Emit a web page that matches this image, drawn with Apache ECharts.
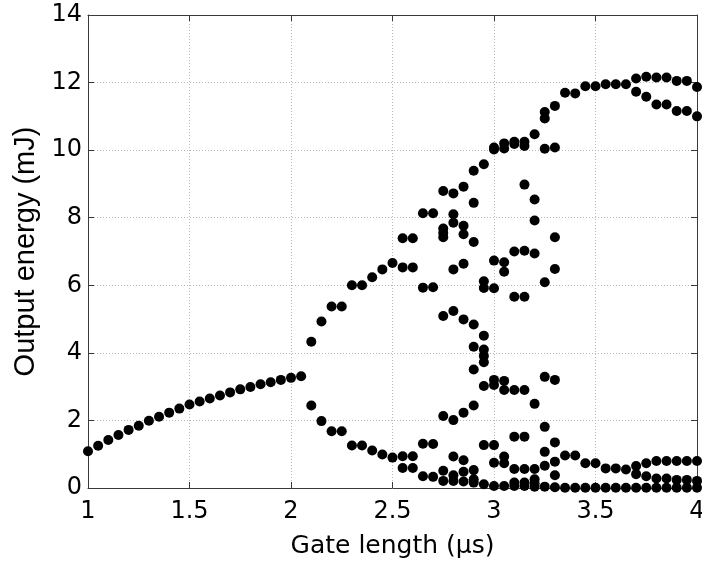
<!DOCTYPE html>
<html>
<head>
<meta charset="utf-8">
<script src="https://cdn.jsdelivr.net/npm/echarts@6/dist/echarts.min.js"></script>
<style>html,body{margin:0;padding:0;background:#fff}#c{width:702px;height:563px}</style>
</head>
<body>
<div id="c"></div>
<script>
// Single-branch region (gate length 1.00 .. 2.05 us, step 0.05)
var gateSingle = [1.00,1.05,1.10,1.15,1.20,1.25,1.30,1.35,1.40,1.45,1.50,1.55,1.60,1.65,1.70,1.75,1.80,1.85,1.90,1.95,2.00,2.05];
var energySingle = [1.09,1.25,1.42,1.57,1.72,1.84,1.99,2.11,2.23,2.35,2.47,2.56,2.65,2.74,2.83,2.92,2.99,3.07,3.13,3.20,3.26,3.31];

// Multi-branch region: gate length and all energy levels observed there
var gateMulti = [2.10,2.15,2.20,2.25,2.30,2.35,2.40,2.45,2.50,2.55,2.60,2.65,2.70,2.75,2.80,2.85,2.90,2.95,3.00,3.05,3.10,3.15,3.20,3.25,3.30,3.35,3.40,3.45,3.50,3.55,3.60,3.65,3.70,3.75,3.80,3.85,3.90,3.95,4.00];
var energyMulti = [
  [4.33,2.44],
  [4.93,1.98],
  [5.37,1.68],
  [5.37,1.68],
  [6.00,1.26],
  [6.00,1.26],
  [6.24,1.11],
  [6.47,0.99],
  [6.66,0.90],
  [7.39,6.53,0.94,0.59],
  [7.39,6.53,0.94,0.59],
  [8.13,5.93,1.31,0.35],
  [8.13,5.94,1.30,0.33],
  [8.79,7.68,7.55,7.42,5.09,2.13,0.51,0.21],
  [8.72,8.10,7.85,6.47,5.24,2.01,0.93,0.38,0.21],
  [8.92,7.76,7.51,6.64,4.99,2.23,0.82,0.48,0.19],
  [9.39,8.44,7.28,4.84,4.18,3.51,2.44,0.53,0.26,0.16],
  [9.58,6.12,5.92,4.51,4.10,3.91,3.72,3.02,1.27,0.11],
  [10.08,10.02,6.73,5.91,3.20,3.05,1.27,0.75,0.06],
  [10.20,10.05,6.68,6.40,3.17,2.90,0.93,0.73,0.06],
  [10.25,10.18,7.00,5.66,2.90,1.52,0.56,0.16,0.06],
  [10.25,10.12,8.98,7.02,5.66,2.90,1.52,0.56,0.16,0.06],
  [10.47,8.54,7.92,6.94,2.49,0.56,0.26,0.14,0.04],
  [11.13,10.94,10.04,6.09,3.29,1.81,1.07,0.66,0.04],
  [11.31,10.08,7.42,6.48,3.20,1.35,0.78,0.38,0.02],
  [11.70,0.96,0.01],
  [11.68,0.96,0.01],
  [11.89,0.73,0.01],
  [11.89,0.73,0.01],
  [11.95,0.58,0.01],
  [11.95,0.58,0.01],
  [11.95,0.55,0.01],
  [12.12,11.73,0.65,0.41,0.01],
  [12.17,11.58,0.73,0.35,0.01],
  [12.15,11.35,0.80,0.28,0.01],
  [12.15,11.35,0.80,0.28,0.01],
  [12.05,11.16,0.80,0.24,0.01],
  [12.05,11.16,0.80,0.24,0.01],
  [11.87,11.00,0.80,0.21,0.01]
];

var xTicks = [1,1.5,2,2.5,3,3.5,4];
var yTicks = [0,2,4,6,8,10,12,14];

var pts = [];
gateSingle.forEach(function(g,i){ pts.push([g, energySingle[i]]); });
gateMulti.forEach(function(g,i){ energyMulti[i].forEach(function(e){ pts.push([g, e]); }); });

var tickFont = 'DejaVu Sans, Liberation Sans, sans-serif';
var titleFont = 'Liberation Sans, Arial, sans-serif';
var axisCol = '#3a3a3a';
var chart = echarts.init(document.getElementById('c'), null, {renderer:'canvas'});
chart.setOption({
  animation: false,
  grid: {left: 88, right: 5, top: 15, bottom: 75, containLabel: false, outerBoundsMode: 'none'},
  xAxis: [{
    type: 'value', min: xTicks[0], max: xTicks[xTicks.length-1], interval: 0.5,
    name: 'Gate length (\u03bcs)', nameLocation: 'middle', nameGap: 46,
    nameTextStyle: {fontFamily: tickFont, fontSize: 25, color: '#000'},
    axisLine: {show: true, onZero: false, lineStyle: {color: axisCol, width: 1}},
    axisTick: {show: true, inside: true, length: 6, lineStyle: {color: axisCol}},
    axisLabel: {fontFamily: tickFont, fontSize: 24, color: '#000', margin: 12, hideOverlap: false,
      showMinLabel: true, showMaxLabel: true,
      formatter: function(v){ return String(v); }},
    splitLine: {show: true, lineStyle: {color: '#b8b8b8', type: [1,2], width: 1}}
  },{
    type: 'value', position: 'top', min: xTicks[0], max: xTicks[xTicks.length-1], interval: 0.5,
    axisLine: {show: true, onZero: false, lineStyle: {color: axisCol, width: 1}},
    axisTick: {show: true, inside: true, length: 6, lineStyle: {color: axisCol}},
    axisLabel: {show: false}, splitLine: {show: false}
  }],
  yAxis: [{
    type: 'value', min: yTicks[0], max: yTicks[yTicks.length-1], interval: 2,
    name: 'Output energy (mJ)', nameLocation: 'middle', nameGap: 46,
    nameTextStyle: {fontFamily: titleFont, fontSize: 29, color: '#000'},
    axisLine: {show: true, onZero: false, lineStyle: {color: axisCol, width: 1}},
    axisTick: {show: true, inside: true, length: 6, lineStyle: {color: axisCol}},
    axisLabel: {fontFamily: tickFont, fontSize: 24, color: '#000', margin: 6,
      showMinLabel: true, showMaxLabel: true},
    splitLine: {show: true, lineStyle: {color: '#b8b8b8', type: [1,2], width: 1}}
  },{
    type: 'value', position: 'right', min: yTicks[0], max: yTicks[yTicks.length-1], interval: 2,
    axisLine: {show: true, onZero: false, lineStyle: {color: axisCol, width: 1}},
    axisTick: {show: true, inside: true, length: 6, lineStyle: {color: axisCol}},
    axisLabel: {show: false}, splitLine: {show: false}
  }],
  series: [{
    type: 'scatter', xAxisIndex: 0, yAxisIndex: 0,
    symbol: 'circle', symbolSize: 10,
    itemStyle: {color: '#000', opacity: 1},
    clip: false,
    data: pts
  }]
});
</script>
</body>
</html>
